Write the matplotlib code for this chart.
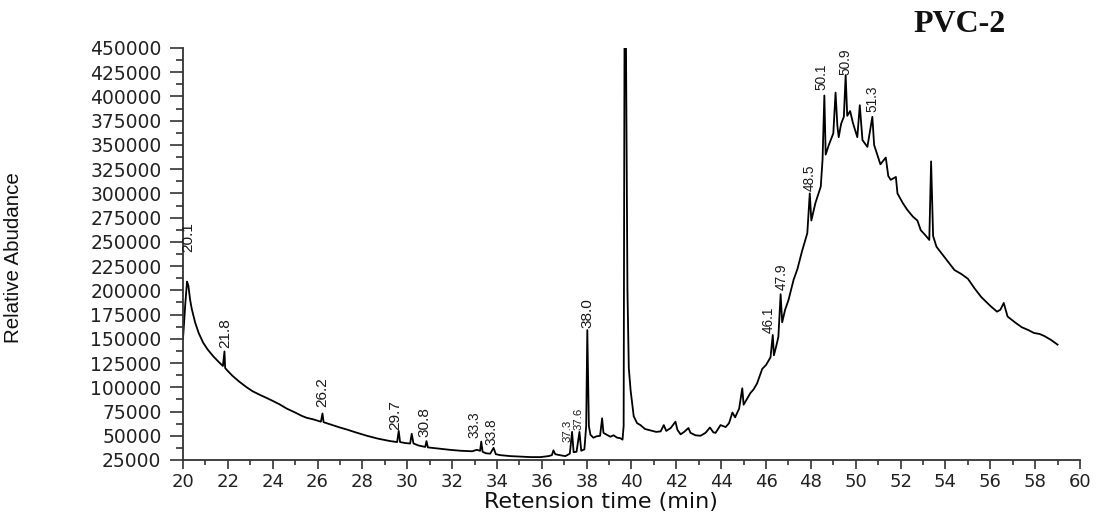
import matplotlib
matplotlib.use("Agg")
import matplotlib.pyplot as plt
from matplotlib import font_manager
from matplotlib.ticker import MultipleLocator

# chromatogram: retention time (min), abundance
rt = [20.00, 20.03, 20.10, 20.18, 20.24, 20.32, 20.39, 20.54, 20.70, 20.90,
      21.10, 21.35, 21.60, 21.78, 21.85, 21.88, 21.95, 22.20, 22.50, 22.84,
      23.10, 23.40, 23.73, 24.00, 24.30, 24.63, 25.00, 25.30, 25.52, 25.80,
      26.15, 26.22, 26.27, 26.60, 27.00, 27.30, 27.70, 28.20, 28.70, 29.24,
      29.55, 29.62, 29.68, 29.90, 30.13, 30.20, 30.28, 30.50, 30.80, 30.86,
      30.92, 31.30, 31.90, 32.40, 32.90, 33.10, 33.25, 33.30, 33.36, 33.50,
      33.70, 33.85, 33.95, 34.15, 34.60, 35.04, 35.50, 35.94, 36.30, 36.45,
      36.52, 36.60, 36.80, 37.05, 37.25, 37.35, 37.42, 37.55, 37.68, 37.76,
      37.90, 37.98, 38.03, 38.10, 38.17, 38.30, 38.45, 38.60, 38.69, 38.75,
      38.90, 39.06, 39.20, 39.36, 39.50, 39.60, 39.65, 39.69, 39.75,
      39.82, 39.88, 39.96, 40.10, 40.25, 40.40, 40.60, 40.85, 41.10, 41.30,
      41.44, 41.55, 41.75, 41.96, 42.05, 42.19, 42.35, 42.54, 42.63, 42.85,
      43.08, 43.30, 43.50, 43.65, 43.75, 43.97, 44.20, 44.35, 44.50, 44.62,
      44.80, 44.94, 45.00, 45.15, 45.30, 45.45, 45.60, 45.83, 46.00, 46.20,
      46.30, 46.35, 46.45, 46.55, 46.65, 46.72, 46.85, 47.00, 47.23, 47.40,
      47.60, 47.84, 47.95, 48.02, 48.20, 48.44, 48.52, 48.60, 48.66, 48.80,
      49.00, 49.10, 49.18, 49.24, 49.35, 49.47, 49.55, 49.62, 49.75, 49.87,
      50.07, 50.18, 50.30, 50.52, 50.74, 50.82, 50.89, 51.10, 51.34, 51.45,
      51.56, 51.79, 51.86, 52.10, 52.30, 52.55, 52.75, 52.90, 53.10, 53.28,
      53.36, 53.45, 53.60, 53.80, 54.10, 54.40, 54.70, 55.00, 55.30, 55.60,
      56.00, 56.30, 56.45, 56.60, 56.77, 57.10, 57.40, 57.70, 57.95, 58.20,
      58.40, 58.70, 59.00]
abundance = [150000, 160000, 185000, 209000, 205000, 190000, 181000, 167000, 156000, 146000,
             139000, 132000, 126000, 122000, 137000, 120000, 118000, 112000, 106000, 100000,
             96000, 92500, 89000, 86000, 82500, 78000, 74000, 70500, 68500, 67000,
             64500, 73000, 64000, 61500, 58500, 56500, 53500, 50000, 47000, 44500,
             43500, 55000, 43500, 42500, 42000, 52000, 42000, 40000, 38500, 44500,
             38000, 37000, 35500, 34500, 34000, 35500, 34500, 44000, 33500, 32000,
             31500, 37500, 31000, 30000, 29000, 28500, 28000, 28000, 29000, 30000,
             35000, 31000, 30000, 29000, 31500, 54000, 33000, 33500, 54000, 34500,
             36000, 60000, 159000, 60000, 51000, 48000, 49500, 50000, 68000, 53000,
             51000, 49000, 50500, 48000, 47500, 46000, 60000, 470000, 470000,
             200000, 120000, 97000, 70000, 63000, 61000, 57000, 55500, 54000, 54500,
             61000, 55000, 58000, 64500, 56000, 51500, 54000, 58000, 53000, 50500,
             50000, 53000, 58500, 53500, 53000, 61000, 59000, 63000, 74000, 69000,
             78000, 99000, 82000, 88000, 94000, 98000, 104000, 119000, 123000, 131000,
             154000, 133000, 142000, 152000, 196000, 167000, 180000, 190000, 211000, 222000,
             240000, 259000, 300000, 272000, 290000, 307000, 335000, 401000, 340000, 350000,
             362000, 404000, 370000, 358000, 372000, 379000, 422000, 380000, 385000, 373000,
             358000, 391000, 355000, 348000, 379000, 350000, 345000, 330000, 337000, 318000,
             314000, 317000, 300000, 290000, 283000, 276000, 272000, 262000, 257000, 252000,
             333000, 256000, 245000, 239000, 230000, 221000, 217000, 212000, 202000, 193000,
             184000, 178000, 180000, 187000, 173000, 167000, 162000, 159000, 156000, 155000,
             153000, 149000, 144000]

# peak annotations as printed on the chart
peak_labels = ["20.1", "21.8", "26.2", "29.7", "30.8", "33.3", "33.8", "37.3", "37.6",
               "38.0", "46.1", "47.9", "48.5", "50.1", "50.9", "51.3"]
label_rt = [20.25, 21.90, 26.20, 29.46, 30.76, 33.00, 33.75, 37.14, 37.63,
            38.02, 46.10, 46.68, 47.95, 48.45, 49.55, 50.76]
label_y = [240000, 141000, 80000, 56000, 48500, 47500, 40500, 43500, 56000,
           161000, 156000, 200000, 303000, 407000, 422000, 384000]
label_size = [13.5, 13.5, 13.5, 13.5, 13.5, 12, 12, 10, 10,
              13.5, 12, 12, 12, 12, 12, 12]

names = {f.name for f in font_manager.fontManager.ttflist}
if "Liberation Sans Narrow" in names:
    narrow = ["Liberation Sans Narrow", "DejaVu Sans"]
    k = 1.0
else:
    narrow = ["Liberation Sans", "DejaVu Sans"]
    k = 0.82

fig = plt.figure(figsize=(10.97, 5.15), dpi=100)
ax = fig.add_axes([0.1668, 0.1068, 0.8177, 0.8000])

ax.plot(rt, abundance, color="black", linewidth=1.3)

for lab, t, v, s in zip(peak_labels, label_rt, label_y, label_size):
    ax.text(t, v, lab, rotation=90, ha="center", va="bottom",
            fontsize=s * k, family=narrow, color="#1a1a1a")

ax.set_xlim(20, 60)
ax.set_ylim(25000, 450000)
ax.xaxis.set_major_locator(MultipleLocator(2))
ax.xaxis.set_minor_locator(MultipleLocator(1))
ax.yaxis.set_major_locator(MultipleLocator(25000))
ax.yaxis.set_minor_locator(MultipleLocator(12500))

for side in ["top", "right"]:
    ax.spines[side].set_visible(False)
for side in ["left", "bottom"]:
    ax.spines[side].set_linewidth(1.3)
    ax.spines[side].set_color("#333333")

ax.tick_params(axis="y", which="major", length=9.5, width=1.2, pad=6,
               labelsize=13.5, colors="#333333", labelcolor="#222222")
ax.tick_params(axis="y", which="minor", length=5, width=1.2, colors="#333333")
ax.tick_params(axis="x", which="major", length=6.5, width=1.2, pad=3,
               labelsize=13, colors="#333333", labelcolor="#222222")
ax.tick_params(axis="x", which="minor", length=3.5, width=1.2, colors="#333333")
for lab in ax.get_xticklabels() + ax.get_yticklabels():
    lab.set_family("DejaVu Sans")

ax.set_xlabel("Retension time (min)", fontsize=16, family="DejaVu Sans", color="#111111")
ax.xaxis.set_label_coords(0.466, -0.078)
ax.set_ylabel("Relative Abudance", fontsize=18 * k, family=narrow, color="#111111")
ax.yaxis.set_label_coords(-0.178, 0.49)

fig.text(0.875, 0.953, "PVC-2", fontsize=23, fontweight="bold",
         family="Liberation Serif", ha="center", va="center", color="#111111")

fig.savefig("out.png", dpi=100)
